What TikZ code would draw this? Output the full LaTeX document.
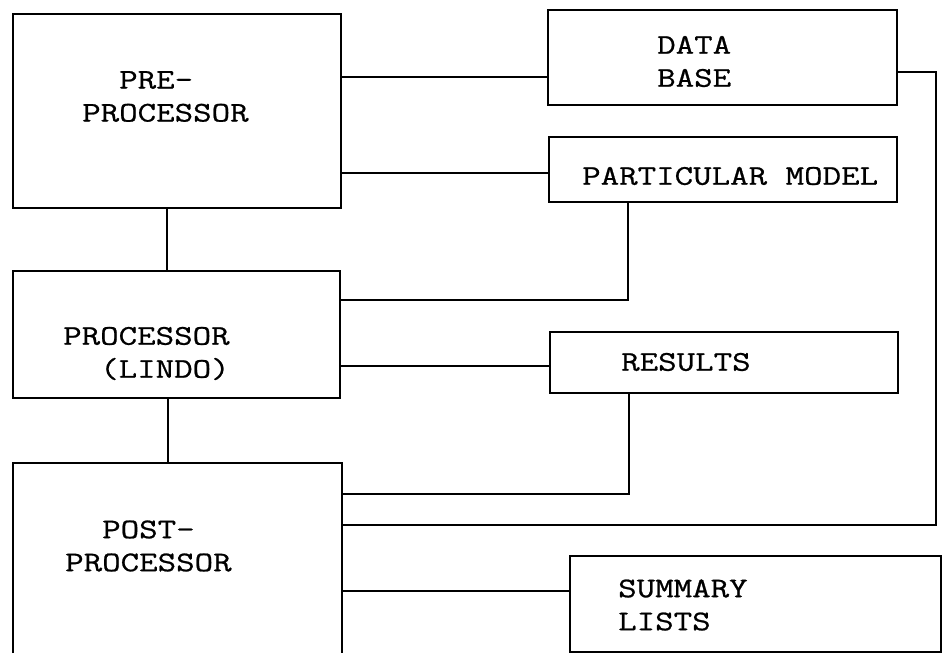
\documentclass[tikz,border=0pt]{standalone}
\usepackage{fontspec}
\setmonofont{Latin Modern Mono}[FakeStretch=1.26, FakeBold=0.8]
\begin{document}
\begin{tikzpicture}[x=1pt,y=-1pt,
  box/.style={draw=black, line width=2.2pt, inner sep=0pt, outer sep=0pt, rectangle},
  openbox/.style={draw=none, inner sep=0pt, outer sep=0pt, rectangle},
  lbl/.style={font=\ttfamily\fontsize{28.5}{33}\selectfont, align=left, anchor=west, inner sep=0pt},
  wire/.style={draw=black, line width=2.2pt}]
\useasboundingbox[fill=white] (0,0) rectangle (944,653);

% boxes
\node[box, minimum width=328pt, minimum height=194pt] (pre)  at (177,111) {};
\node[box, minimum width=349pt, minimum height=95pt]  (data) at (722.5,57.5) {};
\node[box, minimum width=348pt, minimum height=65pt]  (pm)   at (723,169.5) {};
\node[box, minimum width=327pt, minimum height=127pt] (proc) at (176.5,334.5) {};
\node[box, minimum width=348pt, minimum height=61pt]  (res)  at (724,362.5) {};
\node[openbox, minimum width=329pt, minimum height=190pt] (post) at (177.5,558) {};
\node[box, minimum width=371pt, minimum height=96pt]  (sum)  at (755.5,604) {};
\draw[wire] (post.south west) -- (post.north west) -- (post.north east) -- (post.south east);

% texts
\node[lbl] (tpre)  at (82,96.5)  {\hphantom{PR}PRE-\\PROCESSOR};
\node[lbl] (tdata) at (657,61.5) {DATA\\BASE};
\node[lbl] (tpm)   at (582,176)  {PARTICULAR MODEL};
\node[lbl] (tproc) at (63,353.5) {PROCESSOR\\\hphantom{PR}(LINDO)};
\node[lbl] (tres)  at (621,362)  {RESULTS};
\node[lbl] (tpost) at (65,546)   {\hphantom{PR}POST-\\PROCESSOR};
\node[lbl] (tsum)  at (618,605)  {SUMMARY\\LISTS};

% routing levels
\coordinate (ya) at (0,77);
\coordinate (yb) at (0,173);
\coordinate (yc) at (0,300);
\coordinate (yd) at (0,366);
\coordinate (ye) at (0,494);
\coordinate (yf) at (0,525);
\coordinate (yg) at (0,591);
\coordinate (yh) at (0,72);
\coordinate (xa) at (167,0);
\coordinate (xb) at (168,0);
\coordinate (xc) at (628,0);
\coordinate (xd) at (629,0);
\coordinate (k1) at (936,72);
\coordinate (k2) at (936,525);
\coordinate (k3) at (628,300);
\coordinate (k4) at (629,494);

% connectors
\draw[wire] (pre.east |- ya) -- (data.west |- ya);
\draw[wire] (pre.east |- yb) -- (pm.west |- yb);
\draw[wire] (pre.south -| xa) -- (proc.north -| xa);
\draw[wire] (data.east |- yh) -- (k1) -- (k2) -- (post.east |- yf);
\draw[wire] (pm.south -| xc) -- (k3) -- (proc.east |- yc);
\draw[wire] (proc.east |- yd) -- (res.west |- yd);
\draw[wire] (proc.south -| xb) -- (post.north -| xb);
\draw[wire] (res.south -| xd) -- (k4) -- (post.east |- ye);
\draw[wire] (post.east |- yg) -- (sum.west |- yg);
\end{tikzpicture}
\end{document}
